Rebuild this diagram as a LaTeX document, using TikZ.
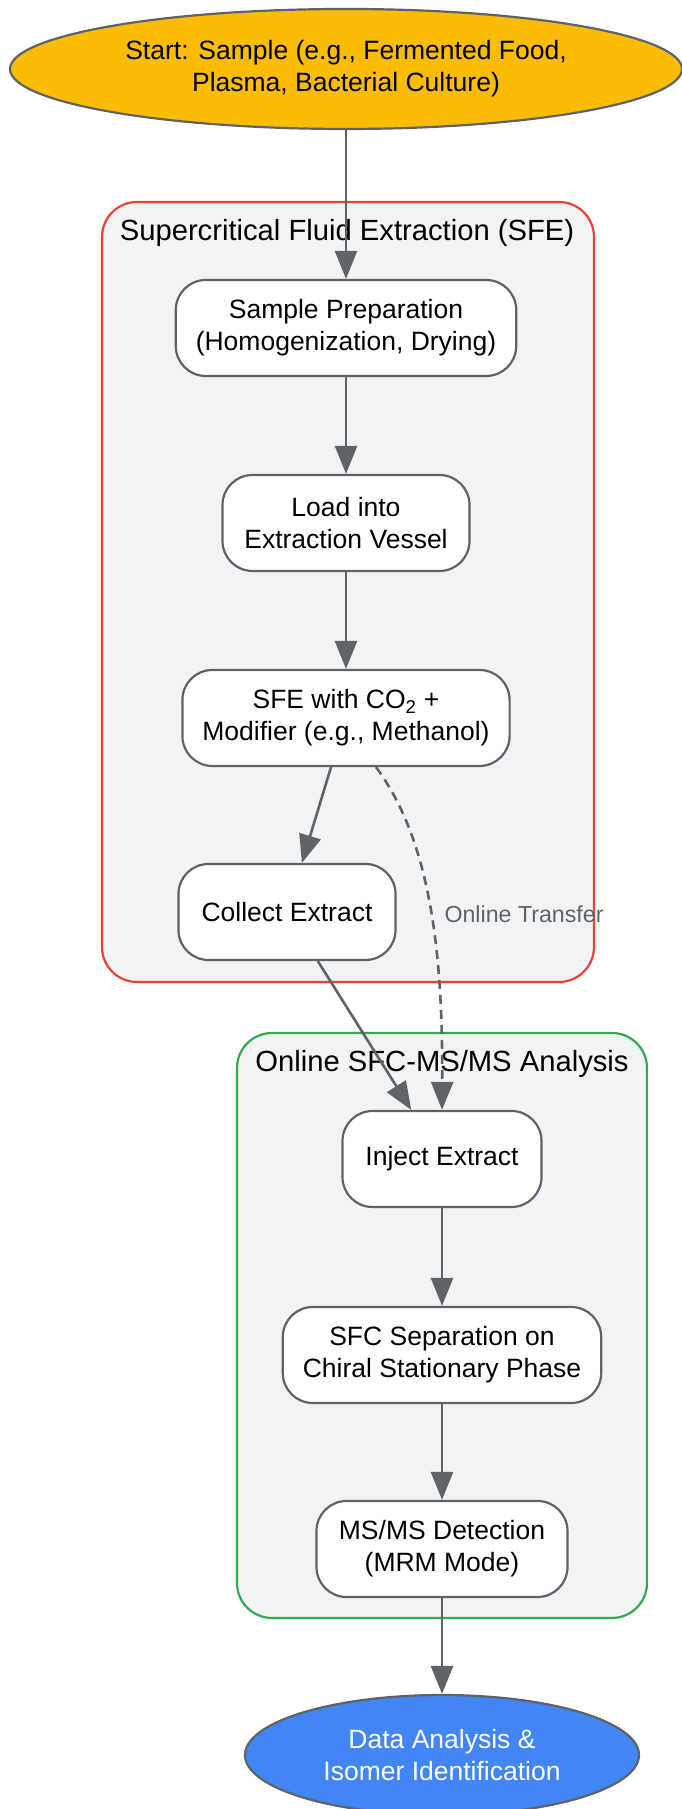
\documentclass[tikz,border=0pt]{standalone}
\usepackage{fontspec}
\setmainfont{Liberation Sans}
\usetikzlibrary{shapes.geometric,arrows.meta}

\definecolor{edgegray}{HTML}{5F6368}
\definecolor{clusterfill}{HTML}{F1F3F4}
\definecolor{sfered}{HTML}{EA4335}
\definecolor{sfcgreen}{HTML}{34A853}
\definecolor{startyellow}{HTML}{FBBC04}
\definecolor{endblue}{HTML}{4285F4}

\tikzset{
    textbig/.style={font=\fontsize{26.5}{32}\selectfont},
    clustertitle/.style={font=\fontsize{29.2}{35}\selectfont},
    process/.style={textbig, draw=edgegray, line width=2.2pt, fill=white, rounded corners=30pt,
        align=center, minimum height=96pt, inner xsep=20pt},
    terminal/.style={textbig, ellipse, draw=edgegray, line width=2.2pt, align=center,
        minimum width=672pt, minimum height=120pt},
    cluster/.style={line width=2.2pt, fill=clusterfill, rounded corners=35pt},
    flow/.style={draw=edgegray, line width=2.6pt, -{Triangle[length=28pt,width=22pt]}},
}

\begin{document}
\begin{tikzpicture}[x=1pt, y=1pt]
    \useasboundingbox (0,0) rectangle (681,1809);

    % clusters
    \node[cluster, draw=sfered, minimum width=492pt, minimum height=780pt] (sfebox) at (348,1217) {};
    \node[clustertitle] (sfetitle) at (347,1576) {Supercritical Fluid Extraction (SFE)};
    \node[cluster, draw=sfcgreen, minimum width=410pt, minimum height=585pt] (sfcbox) at (442,483.5) {};
    \node[clustertitle] (sfctitle) at (442,745) {Online SFC-MS/MS Analysis};

    % steps
    \node[terminal, fill=startyellow] (start) at (346,1740) {Start: Sample (e.g., Fermented Food,\\Plasma, Bacterial Culture)};
    \node[process, minimum width=339pt] (prep) at (346,1481) {Sample Preparation\\(Homogenization, Drying)};
    \node[process, minimum width=247pt] (load) at (346,1286) {Load into\\Extraction Vessel};
    \node[process, minimum width=325pt] (sfe) at (346,1091) {SFE with CO\textsubscript{2} +\\Modifier (e.g., Methanol)};
    \node[process, minimum width=217pt] (collect) at (287,897) {Collect Extract};
    \node[process, minimum width=199pt] (inject) at (442,650) {Inject Extract};
    \node[process, minimum width=318pt] (sfcsep) at (442,454) {SFC Separation on\\Chiral Stationary Phase};
    \node[process, minimum width=251pt] (msms) at (442,260) {MS/MS Detection\\(MRM Mode)};
    \node[terminal, fill=endblue, text=white, minimum width=394pt] (data) at (442,54) {Data Analysis \&\\Isomer Identification};

    % connectors
    \draw[flow] (start) -- (prep);
    \draw[flow] (prep) -- (load);
    \draw[flow] (load) -- (sfe);
    \draw[flow] (sfe) -- (collect);
    \draw[flow] (collect) -- (inject);
    \draw[flow, dash pattern=on 9pt off 6pt] ([xshift=30pt]sfe.south) .. controls (430,969) and (443,859) .. (inject.north);
    \node[anchor=west, text=edgegray, font=\fontsize{23.2}{28}\selectfont] (transfer) at (441,895) {Online Transfer};
    \draw[flow] (inject) -- (sfcsep);
    \draw[flow] (sfcsep) -- (msms);
    \draw[flow] (msms) -- (data);
\end{tikzpicture}
\end{document}
